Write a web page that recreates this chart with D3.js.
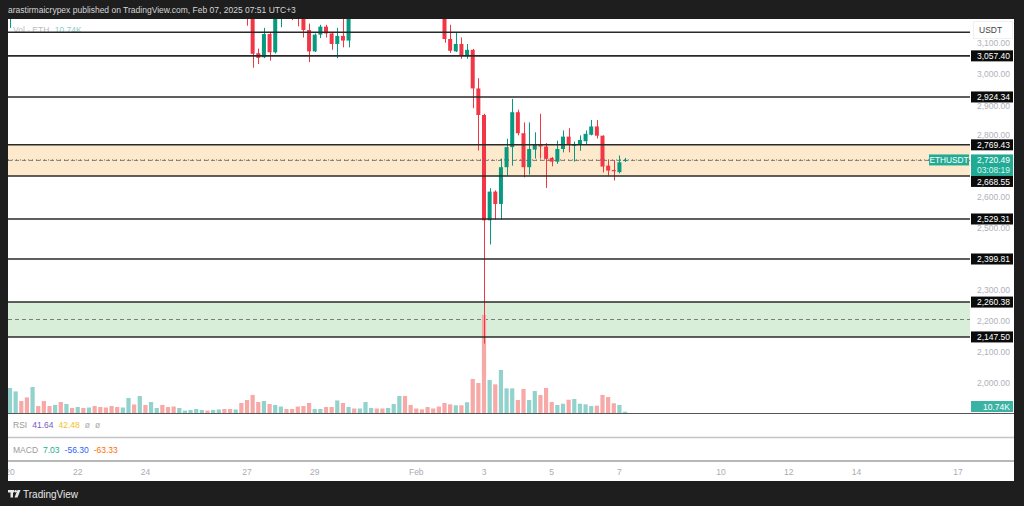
<!DOCTYPE html>
<html><head><meta charset="utf-8">
<script src="https://cdn.jsdelivr.net/npm/d3@7"></script>
<style>html,body{margin:0;padding:0;background:#1e1e1e;overflow:hidden}svg{display:block}</style>
</head><body><svg id="c" width="1024" height="506"></svg>
<script>
// ---------- DATA (4h candles ETHUSDT, starting 20 Jan 2025 00:00) ----------
const startDate = "2025-01-20T00:00:00Z";
const barHours = 4;
const opens  = [3310,3365,3420,3290,3215,3320,3285,3225,3215,3270,3220,3290,3275,3315,3300,3335,3295,3270,3255,3230,
                3215,3250,3325,3290,3390,3345,3400,3410,3345,3315,3295,3320,3325,3330,3345,3350,3330,3340,3352,3320,
                3300,3310,3235,3190,3066,3053,3128,3069,3195,3225,3200,3190,3182,3141,3072,3126,3152,3130,3096,3122,
                3107,3215,3205,3232,3290,3305,3280,3265,3292,3340,3405,3320,3290,3285,3272,3240,3232,3210,3112,3072,
                3096,3060,3077,2952,2866,2525,2618,2578,2697,2762,2875,2807,2697,2754,2772,2764,2727,2715,2756,2796,
                2766,2770,2781,2802,2829,2799,2702,2688,2681,2717];
const highs  = [3420,3455,3430,3310,3350,3335,3300,3260,3290,3285,3300,3310,3330,3325,3345,3345,3310,3285,3265,3245,
                3260,3340,3335,3410,3400,3420,3425,3415,3360,3325,3330,3335,3340,3355,3355,3352,3345,3360,3355,3328,
                3320,3315,3250,3200,3081,3148,3132,3215,3240,3235,3215,3200,3195,3162,3130,3158,3158,3135,3148,3185,
                3230,3225,3240,3300,3315,3310,3290,3300,3350,3435,3420,3335,3305,3292,3280,3255,3240,3218,3158,3132,
                3117,3096,3080,2985,2870,2629,2622,2725,2789,2918,2883,2842,2842,2810,2870,2775,2730,2783,2816,2823,
                2780,2800,2816,2850,2850,2800,2721,2720,2735,2727];
const lows   = [3148,3340,3260,3190,3195,3270,3205,3200,3210,3200,3215,3260,3270,3290,3295,3285,3260,3240,3210,3200,
                3205,3240,3270,3285,3330,3335,3385,3330,3300,3280,3290,3310,3315,3325,3330,3320,3325,3335,3310,3290,
                3295,3220,3155,3019,3031,3050,3042,3065,3150,3185,3173,3153,3117,3037,3070,3115,3117,3077,3050,3085,
                3085,3195,3200,3228,3280,3270,3255,3260,3288,3335,3300,3275,3270,3265,3225,3220,3195,3100,3067,3070,
                3048,3048,2888,2751,2126,2447,2527,2527,2670,2702,2800,2664,2673,2725,2725,2630,2700,2708,2745,2745,
                2715,2750,2772,2800,2790,2680,2670,2654,2677,2714];
const closes = [3365,3420,3290,3215,3320,3285,3225,3215,3270,3220,3290,3275,3315,3300,3335,3295,3270,3255,3230,3215,
                3250,3325,3290,3390,3345,3400,3410,3345,3315,3295,3320,3325,3330,3345,3350,3330,3340,3352,3320,3300,
                3310,3235,3190,3064,3051,3128,3069,3195,3225,3200,3190,3182,3141,3072,3126,3152,3130,3096,3122,3107,
                3215,3205,3232,3290,3305,3280,3265,3292,3340,3405,3320,3290,3285,3272,3240,3232,3210,3112,3074,3096,
                3060,3077,2952,2866,2525,2618,2578,2697,2762,2875,2807,2697,2756,2772,2764,2724,2715,2756,2796,2769,
                2772,2785,2805,2829,2799,2699,2686,2684,2713,2720.49];
// volume in thousands of ETH
const volumes = [205,177,98,128,213,57,98,57,66,90,74,41,49,41,45,57,49,45,57,49,
                 45,123,70,139,66,90,41,66,49,53,41,20,25,33,25,20,25,29,33,33,
                 29,82,107,148,90,98,74,66,53,33,33,53,57,82,33,33,49,49,103,82,
                 49,37,37,90,41,37,37,41,74,139,139,66,37,30,49,37,53,82,71,63,
                 63,88,279,246,804,271,235,353,202,202,107,197,107,180,148,205,90,66,76,109,
                 115,76,71,57,60,148,131,80,66,10.74];
// horizontal levels drawn on the chart
const levelPrices = [3134.00, 3057.40, 2924.34, 2769.43, 2668.55, 2529.31, 2399.81, 2260.38, 2147.50];
const levelShown  = [false, true, true, true, true, true, true, true, true];
// zones (top, bottom)
const zoneTops    = [2769.43, 2260.38];
const zoneBottoms = [2668.55, 2147.50];
const priceTicks = [3100, 3000, 2900, 2800, 2600, 2500, 2300, 2200, 2100, 2000];
const dateTicks = ["2025-01-20","2025-01-22","2025-01-24","2025-01-27","2025-01-29","2025-02-01","2025-02-03","2025-02-05","2025-02-07","2025-02-10","2025-02-12","2025-02-14","2025-02-17"];
const dateTickLabels = ["20","22","24","27","29","Feb","3","5","7","10","12","14","17"];
const symbol = "ETHUSDT";
const lastPrice = 2720.49;
const countdown = "03:08:19";
const lastVolumeLabel = "10.74K";
const rsiValues = ["41.64","42.48","ø","ø"];
const macdValues = ["7.03","-56.30","-63.33"];
const headerText = "arastirmaicrypex published on TradingView.com, Feb 07, 2025 07:51 UTC+3";

// ---------- LAYOUT ----------
const FONT = "Liberation Sans, Arial, sans-serif";
const UP = "#089981", DOWN = "#f23645";
const VUP = "#92d2cc", VDOWN = "#f7a9a7";
const pane = {left: 8, right: 970, top: 19, bottom: 413};
const svg = d3.select("#c");

const times = opens.map((_, i) => new Date(Date.parse(startDate) + i * barHours * 3600e3));
const x = d3.scaleUtc().domain([new Date("2025-01-20T00:00:00Z"), new Date("2025-02-17T00:00:00Z")]).range([10, 958]);
const y = d3.scaleLinear().domain([2000, 3000]).range([382.5, 73.6]);
const yv = d3.scaleLinear().domain([0, 820]).range([pane.bottom, pane.bottom - 100]);
const fmt = d3.format(",.2f");

// frame
svg.append("rect").attr("width", 1024).attr("height", 506).attr("fill", "#1e1e1e");
svg.append("rect").attr("x", 8).attr("y", 19).attr("width", 1006).attr("height", 462).attr("fill", "#ffffff");
svg.append("text").attr("x", 8).attr("y", 12.5).attr("font-family", FONT).attr("font-size", 8.5)
   .attr("fill", "#d6d6d6").text(headerText);

svg.append("clipPath").attr("id", "pc").append("rect")
   .attr("x", pane.left).attr("y", pane.top).attr("width", pane.right - pane.left).attr("height", pane.bottom - pane.top);
const g = svg.append("g").attr("clip-path", "url(#pc)");

// zones
const zoneFills = ["#fde9cc", "#d9eed9"];
zoneTops.forEach((t, k) => {
  g.append("rect").attr("x", pane.left).attr("width", pane.right - pane.left)
   .attr("y", y(t)).attr("height", y(zoneBottoms[k]) - y(t)).attr("fill", zoneFills[k]);
  g.append("line").attr("x1", pane.left).attr("x2", pane.right)
   .attr("y1", y((t + zoneBottoms[k]) / 2)).attr("y2", y((t + zoneBottoms[k]) / 2))
   .attr("stroke", "#7d7d7d").attr("stroke-width", 1).attr("stroke-dasharray", "4,3");
});

// volume
g.selectAll(".vol").data(volumes).join("rect")
 .attr("x", (d, i) => x(times[i]) - 2.1).attr("width", 4.2)
 .attr("y", d => yv(d)).attr("height", d => pane.bottom - yv(d))
 .attr("fill", (d, i) => closes[i] >= opens[i] ? VUP : VDOWN);

// volume legend
const vl = svg.append("text").attr("x", 13).attr("y", 33).attr("font-family", FONT).attr("font-size", 8.5).attr("opacity", 0.55);
vl.append("tspan").attr("fill", "#888").text("Vol · ETH ");
vl.append("tspan").attr("fill", "#26a69a").attr("dx", 3).text(lastVolumeLabel);

// candles
const cg = g.selectAll(".cdl").data(opens).join("g");
cg.append("line")
  .attr("x1", (d, i) => Math.round(x(times[i])) + 0.5).attr("x2", (d, i) => Math.round(x(times[i])) + 0.5)
  .attr("y1", (d, i) => y(highs[i])).attr("y2", (d, i) => y(lows[i]))
  .attr("stroke", (d, i) => closes[i] >= opens[i] ? UP : DOWN).attr("stroke-width", 1);
cg.append("rect")
  .attr("x", (d, i) => x(times[i]) - 2).attr("width", 4)
  .attr("y", (d, i) => y(Math.max(opens[i], closes[i])))
  .attr("height", (d, i) => Math.max(1, Math.abs(y(opens[i]) - y(closes[i]))))
  .attr("fill", (d, i) => closes[i] >= opens[i] ? UP : DOWN);

// last price line
g.append("line").attr("x1", pane.left).attr("x2", pane.right).attr("y1", y(lastPrice)).attr("y2", y(lastPrice))
 .attr("stroke", "#666").attr("stroke-width", 1).attr("stroke-dasharray", "1,3");

// level lines
levelPrices.forEach(p => {
  svg.append("line").attr("x1", pane.left).attr("x2", pane.right).attr("y1", y(p)).attr("y2", y(p))
     .attr("stroke", "#2a2a2a").attr("stroke-width", 1.6);
});

// label boxes on the price axis (computed first so tick labels can avoid them)
const ly = y(lastPrice);
const priceBox = {top: ly - 5.5, bottom: ly + 16};
const boxes = [];
levelPrices.forEach((p, k) => {
  if (!levelShown[k]) return;
  let cy = y(p);
  if (cy + 5.5 > priceBox.top && cy - 5.5 < priceBox.bottom) cy = cy > ly ? priceBox.bottom + 5.5 : priceBox.top - 5.5;
  boxes.push({p, cy});
});

// price axis ticks (nudged off any label box they would touch)
svg.selectAll(".pt").data(priceTicks).join("text")
   .attr("x", 1010)
   .attr("y", d => {
     let base = y(d) + 3;
     boxes.forEach(b => {
       const bt = b.cy - 5.5, bb = b.cy + 5.5;
       if (base > bt && base - 6.5 < bb) base = base < b.cy + 3 ? Math.min(base, bt - 0.5) : bb + 6.8;
     });
     return base;
   })
   .attr("text-anchor", "end")
   .attr("font-family", FONT).attr("font-size", 8.5).attr("fill", "#b0b2ba").text(d => fmt(d));

// last price box
svg.append("rect").attr("x", 971).attr("y", priceBox.top).attr("width", 42).attr("height", 21.5).attr("fill", "#22ab94");
svg.append("text").attr("x", 1010).attr("y", ly + 3).attr("text-anchor", "end").attr("font-family", FONT)
   .attr("font-size", 8.5).attr("fill", "#fff").text(fmt(lastPrice));
svg.append("text").attr("x", 1010).attr("y", ly + 13).attr("text-anchor", "end").attr("font-family", FONT)
   .attr("font-size", 8.5).attr("fill", "#d7f3ee").text(countdown);
svg.append("rect").attr("x", 929).attr("y", ly - 5.5).attr("width", 40).attr("height", 11).attr("fill", "#22ab94");
svg.append("text").attr("x", 949).attr("y", ly + 3).attr("text-anchor", "middle").attr("font-family", FONT)
   .attr("font-size", 8.3).attr("fill", "#fff").text(symbol);

// level labels
boxes.forEach(b => {
  svg.append("rect").attr("x", 971).attr("y", b.cy - 5.5).attr("width", 42).attr("height", 11).attr("fill", "#0b0b0b");
  svg.append("text").attr("x", 1010).attr("y", b.cy + 3.1).attr("text-anchor", "end").attr("font-family", FONT)
     .attr("font-size", 8.5).attr("fill", "#fff").text(fmt(b.p));
});

// USDT header
svg.append("rect").attr("x", 973.5).attr("y", 21.5).attr("width", 39).attr("height", 17).attr("fill", "#fff")
   .attr("stroke", "#f0f0f0");
svg.append("text").attr("x", 979).attr("y", 33).attr("font-family", FONT).attr("font-size", 8.5).attr("fill", "#444").text("USDT");

// volume label
svg.append("rect").attr("x", 971).attr("y", 401).attr("width", 42).attr("height", 11).attr("fill", "#3bb3a4");
svg.append("text").attr("x", 1010).attr("y", 409.6).attr("text-anchor", "end").attr("font-family", FONT)
   .attr("font-size", 8.5).attr("fill", "#fff").text(lastVolumeLabel);

// pane separators
svg.append("line").attr("x1", 8).attr("x2", 1014).attr("y1", 413.5).attr("y2", 413.5).attr("stroke", "#555").attr("stroke-width", 1);
svg.append("line").attr("x1", 8).attr("x2", 1014).attr("y1", 437.5).attr("y2", 437.5).attr("stroke", "#c4c4c4").attr("stroke-width", 1.5);
svg.append("line").attr("x1", 8).attr("x2", 1014).attr("y1", 461).attr("y2", 461).attr("stroke", "#a0a0a0").attr("stroke-width", 1.5);

// RSI legend
const rsi = svg.append("text").attr("x", 13).attr("y", 428).attr("font-family", FONT).attr("font-size", 8.5);
rsi.append("tspan").attr("fill", "#9a9a9a").text("RSI");
const rsiCols = ["#7e57c2", "#f0c419", "#aaaaaa", "#aaaaaa"];
rsiValues.forEach((v, k) => rsi.append("tspan").attr("dx", 5).attr("fill", rsiCols[k]).text(v));
const macd = svg.append("text").attr("x", 13).attr("y", 453).attr("font-family", FONT).attr("font-size", 8.5);
macd.append("tspan").attr("fill", "#9a9a9a").text("MACD");
const macdCols = ["#22ab94", "#2962ff", "#ff6d00"];
macdValues.forEach((v, k) => macd.append("tspan").attr("dx", 5).attr("fill", macdCols[k]).text(v));

// time axis
svg.append("clipPath").attr("id", "tc").append("rect").attr("x", 8).attr("y", 462).attr("width", 1006).attr("height", 19);
svg.append("g").attr("clip-path", "url(#tc)").selectAll("text").data(dateTicks).join("text")
   .attr("x", d => x(new Date(d + "T00:00:00Z"))).attr("y", 474.5).attr("text-anchor", "middle")
   .attr("font-family", FONT).attr("font-size", 8.5).attr("fill", "#a9abb3")
   .text((d, k) => dateTickLabels[k]);

// footer logo
const lg = svg.append("g").attr("fill", "#e8e8e8");
lg.append("rect").attr("x", 8).attr("y", 490).attr("width", 6).attr("height", 2.5);
lg.append("rect").attr("x", 10.5).attr("y", 490).attr("width", 2.5).attr("height", 7.5);
lg.append("circle").attr("cx", 15.6).attr("cy", 491.3).attr("r", 1.3);
lg.append("path").attr("d", "M17.5,490 L20.5,490 L17.5,497.5 L14.5,497.5 Z");
svg.append("text").attr("x", 23).attr("y", 497.5).attr("font-family", FONT).attr("font-size", 10)
   .attr("fill", "#e8e8e8").text("TradingView");
</script></body></html>
